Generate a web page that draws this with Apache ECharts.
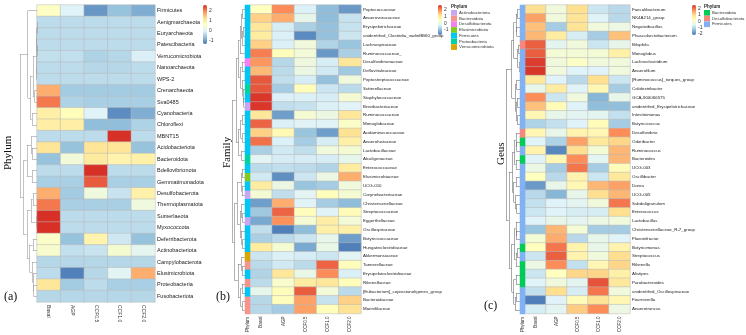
<!DOCTYPE html>
<html>
<head>
<meta charset="utf-8">
<script src="https://cdn.jsdelivr.net/npm/echarts@6/dist/echarts.min.js"></script>
<style>
html,body{margin:0;padding:0;background:#fff;}
#main{width:746px;height:335px;}
</style>
</head>
<body>
<div id="main"></div>
<script>
var chart = echarts.init(document.getElementById('main'));

var samples = ['Basal', 'AGP', 'CCF0.5', 'CCF1.0', 'CCF2.0'];
var heatColors = ['#4575B4', '#91BFDB', '#E0F3F8', '#FFFFBF', '#FEE090', '#FC8D59', '#D73027'];

// (a) phylum
var phylumNames = ['Firmicutes','Aenigmarchaeota','Euryarchaeota','Patescibacteria','Verrucomicrobiota',
  'Nanoarchaeota','WPS-2','Crenarchaeota','Sva0485','Cyanobacteria','Chloroflexi','MBNT15',
  'Acidobacteriota','Bacteroidota','Bdellovibrionota','Gemmatimonadota','Desulfobacterota',
  'Thermoplasmatota','Sumerlaeota','Myxococcota','Deferribacterota','Actinobacteriota',
  'Campylobacterota','Elusimicrobiota','Proteobacteria','Fusobacteriota'];
var phylumValues = [
  [0.6, 0.0, -1.0, -0.6, -0.8],
  [-0.3, -0.3, -0.3, -0.3, -0.3],
  [-0.3, -0.3, -0.3, -0.3, -0.3],
  [-0.3, -0.3, -0.3, -0.3, -0.3],
  [-0.25, -0.25, -0.4, -0.35, -0.05],
  [-0.3, -0.3, -0.35, -0.35, -0.3],
  [-0.3, -0.3, -0.3, -0.3, -0.3],
  [1.7, -0.5, -0.5, -0.5, -0.5],
  [2.1, -0.4, -0.45, -0.45, -0.45],
  [1.0, 0.7, 0.0, -1.1, -0.8],
  [1.0, 1.0, -0.65, -0.65, -0.4],
  [-0.3, -0.3, -0.3, 2.6, -0.3],
  [1.2, -0.6, 1.2, 1.2, -0.6],
  [-0.6, 0.35, 1.1, 0.9, 0.95],
  [-0.3, -0.3, 2.6, -0.3, -0.3],
  [-0.45, -0.45, 2.3, -0.45, -0.45],
  [1.7, -0.5, 0.3, -0.2, 0.95],
  [2.1, -0.45, -0.45, -0.45, 0.3],
  [2.6, -0.3, -0.3, -0.3, -0.3],
  [2.6, -0.3, -0.3, -0.3, -0.3],
  [0.55, -0.6, 0.9, -0.15, -0.6],
  [0.5, -0.25, -0.2, 0.45, 0.1],
  [-0.35, -0.35, -0.35, -0.35, -0.35],
  [-0.3, -1.2, -0.35, 0.05, 1.7],
  [1.15, -0.5, -0.3, -0.45, -0.45],
  [-0.35, -0.35, -0.35, -0.35, -0.35]
];
var phylumTree = [1.0,
  [0.55, 0, [0.4, [0.25, [0.05, [0.02, [0.01, 1, 2], [0.01, 3, 4]], [0.02, 5, 6]], [0.15, 7, 8]], [0.3, 9, 10]]],
  [0.8, [0.6, [0.35, 11, [0.3, 12, 13]], [0.3, 14, 15]],
        [0.6, [0.35, [0.25, 16, 17], [0.05, 18, 19]],
              [0.45, [0.25, 20, 21], [0.3, 22, [0.25, 23, [0.2, 24, 25]]]]]]];

// (b) family
var familyNames = ['Peptococcaceae','Anaerovoracaceae','Erysipelotrichaceae','unidentified_Clostridia_vadinBB60_group',
  'Lachnospiraceae','Ruminococcaceae_','Desulfovibrionaceae','Defluviitaleaceae','Peptostreptococcaceae',
  'Sutterellaceae','Staphylococcaceae','Brevibacteriaceae','Ruminococcaceae','Monoglobaceae',
  'Acidaminococcaceae','Anaerofustaceae','Lactobacillaceae','Alcaligenaceae','Enterococcaceae',
  'Elusimicrobiaceae','UCG-010','Corynebacteriaceae','Christensenellaceae','Streptococcaceae',
  'Eggerthellaceae','Oscillospiraceae','Butyricicoccaceae','Hungateiclostridiaceae','Akkermansiaceae',
  'Tannerellaceae','Erysipelatoclostridiaceae','Rikenellaceae','[Eubacterium]_coprostanoligenes_group',
  'Bacteroidaceae','Marinifilaceae'];
var familyPhylum = ['Firmicutes','Firmicutes','Firmicutes','Firmicutes','Firmicutes','Firmicutes',
  'Desulfobacterota','Firmicutes','Firmicutes','Proteobacteria','Firmicutes','Actinobacteriota',
  'Firmicutes','Firmicutes','Firmicutes','Firmicutes','Firmicutes','Proteobacteria','Firmicutes',
  'Elusimicrobiota','Firmicutes','Actinobacteriota','Firmicutes','Firmicutes','Actinobacteriota',
  'Firmicutes','Firmicutes','Firmicutes','Verrucomicrobiota','Bacteroidota','Firmicutes',
  'Bacteroidota','Firmicutes','Bacteroidota','Bacteroidota'];
var familyValues = [
  [0.45, 1.9, -0.3, -1.0, -1.35],
  [1.3, 1.6, -0.1, -1.0, -0.5],
  [1.0, -0.35, -0.75, -0.95, -0.5],
  [0.9, -0.3, -1.5, -0.95, -0.45],
  [1.3, -0.3, 0.1, -0.7, -0.9],
  [2.0, 0.5, 0.15, -1.35, -0.75],
  [1.8, -0.65, 0.05, -0.35, 1.0],
  [1.5, -0.6, 0.0, -0.4, -0.85],
  [2.3, -0.55, -0.35, -0.95, 0.1],
  [2.3, -0.8, 0.5, -0.45, -0.6],
  [2.55, -0.3, -0.3, -0.35, 0.2],
  [2.55, -0.55, -0.5, -0.3, -0.25],
  [1.0, -1.3, 0.2, 0.0, 1.0],
  [2.2, -0.3, -0.25, -0.25, 0.35],
  [1.3, 0.6, -0.9, -1.3, 1.1],
  [2.1, -0.3, -0.8, -0.35, 0.8],
  [-0.75, -0.4, -0.55, 0.1, 0.2],
  [-0.2, -0.35, -0.35, -0.35, -0.1],
  [-0.6, -0.55, -0.6, -0.7, 0.9],
  [-0.4, -1.45, -0.45, 0.0, 1.6],
  [0.9, 0.0, -0.9, -0.8, 0.1],
  [0.2, -0.55, -0.2, 0.5, 0.2],
  [-1.3, 1.6, -0.25, -0.8, -1.0],
  [-0.85, 2.2, 0.5, -0.25, 0.55],
  [-1.2, 1.85, 0.2, 0.85, 0.15],
  [-0.55, -1.6, -1.0, 0.8, 0.8],
  [-0.75, -0.6, -0.45, -0.1, -1.3],
  [0.9, 0.2, -1.2, -0.05, -1.6],
  [-0.45, -0.3, -0.35, -0.45, -0.2],
  [-0.6, -0.4, -0.6, 2.2, 0.5],
  [-0.7, 1.0, -0.05, 1.9, -0.3],
  [-0.6, 0.3, 0.9, 1.0, 0.5],
  [-0.1, 0.5, 2.25, 0.15, -0.6],
  [-0.65, 0.5, 1.7, -0.5, 1.3],
  [-0.65, -0.8, 1.7, 0.5, 1.1]
];
var familyLegend = ['Actinobacteriota','Bacteroidota','Desulfobacterota','Elusimicrobiota','Firmicutes','Proteobacteria','Verrucomicrobiota'];
var familyLegendColors = ['#c7a7f4','#f7948c','#f47ff0','#7fcb1f','#00c6f6','#00d3a2','#d9a602'];
var familyTree = [1.0,
  [0.7, [0.5, [0.4, [0.3, [0.2, 0, 1], [0.25, [0.15, 2, 3], 4]], 5],
              [0.35, [0.25, 6, 7], [0.2, 8, [0.15, 9, [0.1, 10, 11]]]]],
        [0.5, [0.35, [0.25, 12, 13], [0.2, 14, 15]], [0.3, 16, 17]]],
  [0.8, [0.6, [0.3, [0.2, 18, 19], [0.25, 20, 21]],
              [0.4, [0.3, 22, [0.2, 23, 24]], [0.3, 25, [0.2, 26, 27]]]],
        [0.55, [0.3, 28, [0.25, 29, 30]], [0.35, [0.25, 31, 32], [0.2, 33, 34]]]]];

// (c) genus
var genusNames = ['Faecalibacterium','NK4A214_group','Negativibacillus','Phascolarctobacterium','Bilophila',
  'Monoglobus','Lachnoclostridium','Anaerofilum','[Ruminococcus]_torques_group','Colidextribacter',
  'GCA-900066575','unidentified_Erysipelotrichaceae','Intestinimonas','Butyricicoccus','Desulfovibrio',
  'Odoribacter','Ruminococcus','Bacteroides','UCG-003','Oscillibacter','Dorea','UCG-005',
  'Subdoligranulum','Enterococcus','Lactobacillus','Christensenellaceae_R-7_group','Flavonifractor',
  'Butyricimonas','Streptococcus','Rikenella','Alistipes','Parabacteroides',
  'unidentified_Oscillospiraceae','Fournierella','Anaerotruncus'];
var genusPhylum = ['Firmicutes','Firmicutes','Firmicutes','Firmicutes','Desulfobacterota',
  'Firmicutes','Firmicutes','Firmicutes','Firmicutes','Firmicutes','Firmicutes','Firmicutes',
  'Firmicutes','Firmicutes','Desulfobacterota','Bacteroidota','Firmicutes','Bacteroidota',
  'Firmicutes','Firmicutes','Firmicutes','Firmicutes','Firmicutes','Firmicutes','Firmicutes',
  'Firmicutes','Firmicutes','Bacteroidota','Firmicutes','Bacteroidota','Bacteroidota',
  'Bacteroidota','Firmicutes','Firmicutes','Firmicutes'];
var genusValues = [
  [1.0, -0.2, 1.0, -0.8, -1.0],
  [1.6, -0.2, 0.9, -0.6, -1.0],
  [1.3, -1.2, 0.9, -0.2, -0.3],
  [1.4, 0.7, -0.7, -1.2, 1.3],
  [2.2, -0.5, -0.2, -0.8, -0.4],
  [2.2, -0.1, -0.1, -0.1, 0.6],
  [2.5, -0.2, 0.1, -0.2, -0.2],
  [2.55, -0.2, -0.6, -0.6, -0.2],
  [0.8, -0.6, -1.0, 1.0, -0.8],
  [-0.4, 0.7, -0.6, 0.4, -1.2],
  [1.8, -0.8, -0.2, -1.5, -0.4],
  [1.3, 0.3, -0.6, -1.4, -1.4],
  [0.4, -0.4, -0.5, -0.5, -0.9],
  [-1.1, -0.9, -0.6, 0.3, -1.2],
  [0.4, -0.4, 0.5, 0.4, 1.8],
  [-0.6, -1.1, 1.6, 0.8, 1.1],
  [0.5, -2.0, 1.0, -0.1, 1.4],
  [-0.6, 0.4, 1.8, -0.5, 1.4],
  [-0.3, -1.2, 2.0, -1.2, 0.3],
  [0.2, -1.0, 0.5, -0.8, 0.8],
  [-1.8, -0.4, 0.4, 1.4, 1.6],
  [-1.0, -1.5, -0.4, 1.0, 1.4],
  [-0.9, -0.6, -0.5, -0.2, 2.0],
  [-0.8, -0.6, -0.7, -0.7, 1.0],
  [-0.6, -0.4, -0.5, -0.3, -0.2],
  [-1.3, 1.4, -0.1, -1.2, -1.2],
  [-0.1, 1.5, -1.0, -0.4, -0.6],
  [0.2, 2.0, 0.5, -0.4, 0.5],
  [-0.8, 2.2, 0.5, -0.2, 1.0],
  [-0.3, 1.8, -0.9, 0.4, 1.1],
  [-0.8, 0.2, 1.1, 1.1, 0.6],
  [-0.6, -0.2, -0.5, 2.3, 0.8],
  [-0.9, 1.0, -0.7, 2.0, -0.2],
  [-2.1, -0.6, 0.3, 0.9, 0.4],
  [-0.7, -0.5, 1.2, 1.8, -0.3]
];
var genusLegend = ['Bacteroidota','Desulfobacterota','Firmicutes'];
var genusLegendColors = ['#00cc55','#f5877d','#80b1f5'];
var genusTree = [1.0,
  [0.6, [0.45, [0.3, [0.2, 0, 1], [0.25, 2, 3]], [0.2, [0.1, 4, 5], [0.08, 6, 7]]],
        [0.35, [0.25, 8, 9], [0.3, [0.2, 10, 11], [0.2, 12, 13]]]],
  [0.8, [0.55, [0.4, [0.3, 14, [0.25, 15, 16]], [0.3, 17, 18]],
               [0.45, [0.3, 19, 20], [0.35, 21, [0.25, 22, 23]]]],
        [0.6, [0.4, [0.3, 24, [0.25, 25, 26]], [0.3, [0.2, 27, 28], 29]],
              [0.45, [0.3, 30, 31], [0.35, [0.25, 32, 33], 34]]]]];

function toCells(values) {
  var out = [];
  values.forEach(function (row, i) {
    row.forEach(function (v, j) { out.push([j, i, v]); });
  });
  return out;
}

// dendrogram -> line segments (leaf height 0, node y = middle of children)
function dendroLines(tree) {
  var segs = [];
  function walk(node) {
    if (typeof node === 'number') return { h: 0, y: node };
    var a = walk(node[1]), b = walk(node[2]), h = node[0];
    segs.push({ coords: [[a.h, a.y], [h, a.y]] });
    segs.push({ coords: [[b.h, b.y], [h, b.y]] });
    segs.push({ coords: [[h, a.y], [h, b.y]] });
    return { h: h, y: (a.y + b.y) / 2 };
  }
  walk(tree);
  return segs;
}

var FONT = 'Liberation Sans, Arial, sans-serif';
var SERIF = 'Liberation Serif, Times New Roman, serif';
var hid = { show: false };

function heatX(idx, rot, fs) {
  return { gridIndex: idx, type: 'category', data: samples, position: 'bottom',
    axisLine: hid, axisTick: hid, splitLine: hid,
    axisLabel: { rotate: rot, fontSize: fs, color: '#333', margin: 3, fontFamily: FONT, interval: 0 } };
}
function heatY(idx, names, fs) {
  return { gridIndex: idx, type: 'category', data: names, inverse: true, position: 'right',
    axisLine: hid, axisTick: hid, splitLine: hid,
    axisLabel: { fontSize: fs, color: '#222', margin: 2, interval: 0, fontFamily: FONT } };
}
function stripX(idx) {
  return { gridIndex: idx, type: 'category', data: ['Phylum'], position: 'bottom',
    axisLine: hid, axisTick: hid,
    axisLabel: { rotate: 90, fontSize: 4.5, color: '#333', margin: 3, fontFamily: FONT } };
}
function stripY(idx, names) {
  return { gridIndex: idx, type: 'category', data: names, inverse: true, show: false };
}
function dendX(idx) { return { gridIndex: idx, type: 'value', min: 0, max: 1, inverse: true, show: false }; }
function dendY(idx, n) { return { gridIndex: idx, type: 'value', min: -0.5, max: n - 0.5, inverse: true, show: false }; }
function barX(idx) { return { gridIndex: idx, type: 'value', show: false }; }
function barY(idx, mn, mx, ticks) {
  return { gridIndex: idx, type: 'value', min: mn, max: mx, position: 'right',
    axisLine: hid, axisTick: hid, splitLine: hid,
    axisLabel: { customValues: ticks, fontSize: 5, color: '#333', margin: 2, fontFamily: FONT,
      showMinLabel: true, showMaxLabel: true } };
}

var cellStyle = { borderColor: '#b9b9b9', borderWidth: 0.5 };

function heatSeries(idx, values) {
  return { type: 'heatmap', xAxisIndex: idx, yAxisIndex: idx, data: toCells(values),
    itemStyle: cellStyle, emphasis: { disabled: true }, animation: false };
}
function dendSeries(idx, tree, col) {
  return { type: 'lines', coordinateSystem: 'cartesian2d', xAxisIndex: idx, yAxisIndex: idx,
    data: dendroLines(tree), silent: true, animation: false,
    lineStyle: { color: col, width: 0.6, opacity: 1 } };
}
function stripSeries(idx, phyla, legend, colors, tag) {
  return legend.map(function (p, k) {
    var d = [];
    phyla.forEach(function (q, i) { if (q === p) d.push([0, i, 1]); });
    return { type: 'heatmap', name: p + tag, xAxisIndex: idx, yAxisIndex: idx, data: d,
      itemStyle: { color: colors[k] }, emphasis: { disabled: true }, animation: false };
  });
}

var vmBase = { type: 'continuous', orient: 'vertical', calculable: false, hoverLink: false,
  inRange: { color: heatColors }, padding: 0, text: null, itemWidth: 4 };

var option = {
  animation: false,
  grid: [
    { left: 37, top: 5, width: 118, height: 297 },   // 0 heat a
    { left: 20, top: 5, width: 17, height: 297 },    // 1 dendro a
    { left: 203, top: 5, width: 4, height: 39 },     // 2 bar a
    { left: 250, top: 5, width: 111, height: 310 },  // 3 heat b
    { left: 245, top: 5, width: 5, height: 310 },    // 4 strip b
    { left: 232, top: 5, width: 13, height: 310 },   // 5 dendro b
    { left: 438, top: 5, width: 4, height: 30 },     // 6 bar b
    { left: 525, top: 5, width: 105, height: 310 },  // 7 heat c
    { left: 520, top: 5, width: 5, height: 310 },    // 8 strip c
    { left: 506, top: 5, width: 14, height: 310 },   // 9 dendro c
    { left: 692, top: 5, width: 4, height: 30 }      // 10 bar c
  ],
  xAxis: [heatX(0, -90, 5), dendX(1), barX(2), heatX(3, 90, 4.5), stripX(4), dendX(5), barX(6),
          heatX(7, 90, 4.5), stripX(8), dendX(9), barX(10)],
  yAxis: [heatY(0, phylumNames, 5.5), dendY(1, phylumNames.length), barY(2, -1.3, 2.6, [-1, 0, 1, 2]),
          heatY(3, familyNames, 4.4), stripY(4, familyNames), dendY(5, familyNames.length),
          barY(6, -1.7, 2.6, [-1, 0, 1, 2]),
          heatY(7, genusNames, 4.4), stripY(8, genusNames), dendY(9, genusNames.length),
          barY(10, -2.2, 2.6, [-2, -1, 0, 1, 2])],
  visualMap: [
    Object.assign({}, vmBase, { seriesIndex: 0, min: -1.3, max: 2.6, left: 203, top: 5, itemHeight: 39 }),
    Object.assign({}, vmBase, { seriesIndex: 1, min: -1.7, max: 2.6, left: 438, top: 5, itemHeight: 30 }),
    Object.assign({}, vmBase, { seriesIndex: 2, min: -2.2, max: 2.6, left: 692, top: 5, itemHeight: 30 })
  ],
  legend: [
    { data: familyLegend, orient: 'vertical', left: 451, top: 10, padding: 0, itemGap: 0,
      itemWidth: 6, itemHeight: 5.7, icon: 'rect', selectedMode: false,
      textStyle: { fontSize: 4.3, color: '#333', fontFamily: FONT, padding: [0, 0, 0, -3] } },
    { data: genusLegend.map(function (p) { return p + '|c'; }), orient: 'vertical', left: 704, top: 10,
      padding: 0, itemGap: 0, itemWidth: 6, itemHeight: 5.7, icon: 'rect', selectedMode: false,
      formatter: function (n) { return n.split('|')[0]; },
      textStyle: { fontSize: 4.3, color: '#333', fontFamily: FONT, padding: [0, 0, 0, -3] } }
  ],
  graphic: [
    { type: 'text', left: 451, top: 4, style: { text: 'Phylum', fontSize: 4.5, fontWeight: 'bold', fill: '#222', fontFamily: FONT } },
    { type: 'text', left: 704, top: 4, style: { text: 'Phylum', fontSize: 4.5, fontWeight: 'bold', fill: '#222', fontFamily: FONT } },
    { type: 'text', x: 3, y: 170, rotation: Math.PI / 2, style: { text: 'Phylum', fontSize: 11, fill: '#111', fontFamily: SERIF } },
    { type: 'text', x: 222, y: 168, rotation: Math.PI / 2, style: { text: 'Family', fontSize: 11, fill: '#111', fontFamily: SERIF } },
    { type: 'text', x: 496, y: 165, rotation: Math.PI / 2, style: { text: 'Geus', fontSize: 11, fill: '#111', fontFamily: SERIF } },
    { type: 'text', x: 4, y: 291, style: { text: '(a)', fontSize: 12, fill: '#111', fontFamily: SERIF } },
    { type: 'text', x: 216, y: 291, style: { text: '(b)', fontSize: 12, fill: '#111', fontFamily: SERIF } },
    { type: 'text', x: 484, y: 300, style: { text: '(c)', fontSize: 12, fill: '#111', fontFamily: SERIF } }
  ],
  series: [
    heatSeries(0, phylumValues),
    heatSeries(3, familyValues),
    heatSeries(7, genusValues),
    dendSeries(1, phylumTree, '#9a9a9a'),
    dendSeries(5, familyTree, '#808080'),
    dendSeries(9, genusTree, '#707070')
  ].concat(stripSeries(4, familyPhylum, familyLegend, familyLegendColors, ''))
   .concat(stripSeries(8, genusPhylum, genusLegend, genusLegendColors, '|c'))
};

chart.setOption(option);
</script>
</body>
</html>
